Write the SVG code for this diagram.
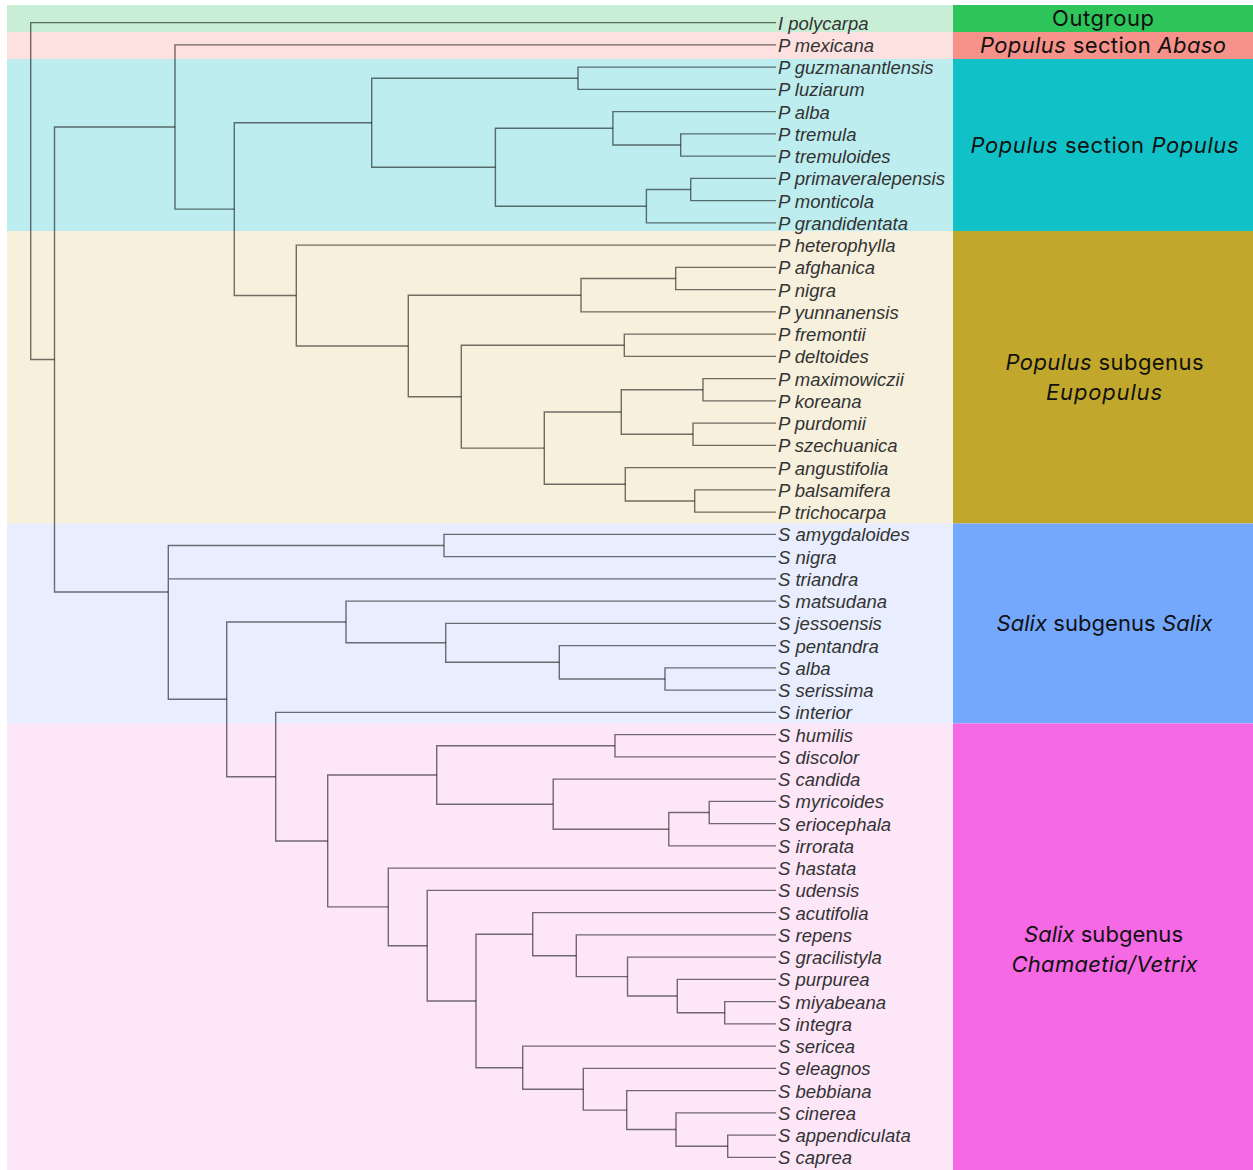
<svg xmlns="http://www.w3.org/2000/svg" width="1253" height="1170" viewBox="0 0 1253 1170">
<style>
.tip{font-family:"Liberation Sans",Arial,sans-serif;font-style:italic;font-size:18.5px;fill:#333}
.lab{font-family:Inter,"Noto Sans",sans-serif;font-size:22px;fill:#111;text-anchor:middle}
.it{font-style:italic}
.br{fill:none;stroke:#000;stroke-opacity:0.55;stroke-width:1.4}
</style>
<rect width="1253" height="1170" fill="#fff"/>
<g id="bands">
<rect x="7" y="5" width="946" height="27" fill="#c8efd6"/>
<rect x="7" y="32" width="946" height="27" fill="#fde0e0"/>
<rect x="7" y="59" width="946" height="172" fill="#bdedef"/>
<rect x="7" y="231" width="946" height="292.5" fill="#f6f0dc"/>
<rect x="7" y="523.5" width="946" height="200" fill="#e8eefd"/>
<rect x="7" y="723.5" width="946" height="446.5" fill="#fde6f8"/>
</g>
<g id="clade-outgroup"><rect x="953" y="5" width="300" height="27" fill="#2ec55a"/><text class="lab" x="1103" y="26" textLength="102">Outgroup</text></g>
<g id="clade-abaso"><rect x="953" y="32" width="300" height="27" fill="#f7928a"/><text class="lab" x="1103" y="53" textLength="246"><tspan class="it">Populus</tspan> section <tspan class="it">Abaso</tspan></text></g>
<g id="clade-populus"><rect x="953" y="59" width="300" height="172" fill="#10c2c8"/><text class="lab" x="1104.5" y="153" textLength="268"><tspan class="it">Populus</tspan> section <tspan class="it">Populus</tspan></text></g>
<g id="clade-eupopulus"><rect x="953" y="231" width="300" height="292.5" fill="#c1a82c"/><text class="lab" x="1104.5" y="369.5" textLength="198"><tspan class="it">Populus</tspan> subgenus</text><text class="lab it" x="1104" y="399.5" textLength="116">Eupopulus</text></g>
<g id="clade-salix"><rect x="953" y="523.5" width="300" height="200" fill="#73a8fd"/><text class="lab" x="1104.5" y="630.5" textLength="216"><tspan class="it">Salix</tspan> subgenus <tspan class="it">Salix</tspan></text></g>
<g id="clade-vetrix"><rect x="953" y="723.5" width="300" height="446.5" fill="#f569e4"/><text class="lab" x="1103.5" y="942" textLength="159"><tspan class="it">Salix</tspan> subgenus</text><text class="lab it" x="1104.5" y="972" textLength="186">Chamaetia/Vetrix</text></g>
<g id="connectors" class="br">
<path d="M776 22.6H30.7V359.5H54.5"/>
<path d="M175 127H54.5V592H168.3"/>
<path d="M776 44.85H175V209.1H234.3"/>
<path d="M371.7 122.7H234.3V295.5H296.3"/>
<path d="M578 78.2H371.7V167.2H495.4"/>
<path d="M776 67.1H578V89.35H776"/>
<path d="M612.9 128.3H495.4V206.2H646.4"/>
<path d="M776 111.6H612.9V145H680.7"/>
<path d="M776 133.85H680.7V156.1H776"/>
<path d="M690.7 189.5H646.4V222.85H776"/>
<path d="M776 178.35H690.7V200.6H776"/>
<path d="M776 245.1H296.3V346H408.3"/>
<path d="M581 295.2H408.3V396.7H461.3"/>
<path d="M675.7 278.5H581V311.85H776"/>
<path d="M776 267.35H675.7V289.6H776"/>
<path d="M624.3 345.2H461.3V448.1H544.3"/>
<path d="M776 334.1H624.3V356.35H776"/>
<path d="M621.3 412H544.3V484.3H625.3"/>
<path d="M703 389.7H621.3V434.2H693"/>
<path d="M776 378.6H703V400.85H776"/>
<path d="M776 423.1H693V445.35H776"/>
<path d="M776 467.6H625.3V501H694.7"/>
<path d="M776 489.85H694.7V512.1H776"/>
<path d="M444 545.5H168.3V699.3H226.7M168.3 578.85H776"/>
<path d="M776 534.35H444V556.6H776"/>
<path d="M346 622H226.7V776.7H275.7"/>
<path d="M776 601.1H346V642.8H445.7"/>
<path d="M776 623.35H445.7V662.3H559.3"/>
<path d="M776 645.6H559.3V679H665"/>
<path d="M776 667.85H665V690.1H776"/>
<path d="M776 712.35H275.7V841H327.7"/>
<path d="M436.7 775H327.7V906.9H388.3"/>
<path d="M615 745.7H436.7V804.2H553.2"/>
<path d="M776 734.6H615V756.85H776"/>
<path d="M776 779.1H553.2V829.2H668.8"/>
<path d="M709.2 812.5H668.8V845.85H776"/>
<path d="M776 801.35H709.2V823.6H776"/>
<path d="M776 868.1H388.3V945.7H427.2"/>
<path d="M776 890.35H427.2V1001H476"/>
<path d="M532.7 934.2H476V1067.7H522.7"/>
<path d="M776 912.6H532.7V955.7H576.3"/>
<path d="M776 934.85H576.3V976.6H627.5"/>
<path d="M776 957.1H627.5V996H677.3"/>
<path d="M776 979.35H677.3V1012.7H724.7"/>
<path d="M776 1001.6H724.7V1023.85H776"/>
<path d="M776 1046.1H522.7V1089.2H583.3"/>
<path d="M776 1068.35H583.3V1110.1H626.7"/>
<path d="M776 1090.6H626.7V1129.5H676"/>
<path d="M776 1112.85H676V1146.2H727.7"/>
<path d="M776 1135.1H727.7V1157.35H776"/>
</g>
<g id="tips" class="tip">
<g id="t-i-polycarpa"><text x="778" y="29.6">I polycarpa</text></g>
<g id="t-p-mexicana"><text x="778" y="51.9">P mexicana</text></g>
<g id="t-p-guzmanantlensis"><text x="778" y="74.1">P guzmanantlensis</text></g>
<g id="t-p-luziarum"><text x="778" y="96.4">P luziarum</text></g>
<g id="t-p-alba"><text x="778" y="118.6">P alba</text></g>
<g id="t-p-tremula"><text x="778" y="140.9">P tremula</text></g>
<g id="t-p-tremuloides"><text x="778" y="163.1">P tremuloides</text></g>
<g id="t-p-primaveralepensis"><text x="778" y="185.4">P primaveralepensis</text></g>
<g id="t-p-monticola"><text x="778" y="207.6">P monticola</text></g>
<g id="t-p-grandidentata"><text x="778" y="229.9">P grandidentata</text></g>
<g id="t-p-heterophylla"><text x="778" y="252.1">P heterophylla</text></g>
<g id="t-p-afghanica"><text x="778" y="274.4">P afghanica</text></g>
<g id="t-p-nigra"><text x="778" y="296.6">P nigra</text></g>
<g id="t-p-yunnanensis"><text x="778" y="318.9">P yunnanensis</text></g>
<g id="t-p-fremontii"><text x="778" y="341.1">P fremontii</text></g>
<g id="t-p-deltoides"><text x="778" y="363.4">P deltoides</text></g>
<g id="t-p-maximowiczii"><text x="778" y="385.6">P maximowiczii</text></g>
<g id="t-p-koreana"><text x="778" y="407.9">P koreana</text></g>
<g id="t-p-purdomii"><text x="778" y="430.1">P purdomii</text></g>
<g id="t-p-szechuanica"><text x="778" y="452.4">P szechuanica</text></g>
<g id="t-p-angustifolia"><text x="778" y="474.6">P angustifolia</text></g>
<g id="t-p-balsamifera"><text x="778" y="496.9">P balsamifera</text></g>
<g id="t-p-trichocarpa"><text x="778" y="519.1">P trichocarpa</text></g>
<g id="t-s-amygdaloides"><text x="778" y="541.4">S amygdaloides</text></g>
<g id="t-s-nigra"><text x="778" y="563.6">S nigra</text></g>
<g id="t-s-triandra"><text x="778" y="585.9">S triandra</text></g>
<g id="t-s-matsudana"><text x="778" y="608.1">S matsudana</text></g>
<g id="t-s-jessoensis"><text x="778" y="630.4">S jessoensis</text></g>
<g id="t-s-pentandra"><text x="778" y="652.6">S pentandra</text></g>
<g id="t-s-alba"><text x="778" y="674.9">S alba</text></g>
<g id="t-s-serissima"><text x="778" y="697.1">S serissima</text></g>
<g id="t-s-interior"><text x="778" y="719.4">S interior</text></g>
<g id="t-s-humilis"><text x="778" y="741.6">S humilis</text></g>
<g id="t-s-discolor"><text x="778" y="763.9">S discolor</text></g>
<g id="t-s-candida"><text x="778" y="786.1">S candida</text></g>
<g id="t-s-myricoides"><text x="778" y="808.4">S myricoides</text></g>
<g id="t-s-eriocephala"><text x="778" y="830.6">S eriocephala</text></g>
<g id="t-s-irrorata"><text x="778" y="852.9">S irrorata</text></g>
<g id="t-s-hastata"><text x="778" y="875.1">S hastata</text></g>
<g id="t-s-udensis"><text x="778" y="897.4">S udensis</text></g>
<g id="t-s-acutifolia"><text x="778" y="919.6">S acutifolia</text></g>
<g id="t-s-repens"><text x="778" y="941.9">S repens</text></g>
<g id="t-s-gracilistyla"><text x="778" y="964.1">S gracilistyla</text></g>
<g id="t-s-purpurea"><text x="778" y="986.4">S purpurea</text></g>
<g id="t-s-miyabeana"><text x="778" y="1008.6">S miyabeana</text></g>
<g id="t-s-integra"><text x="778" y="1030.9">S integra</text></g>
<g id="t-s-sericea"><text x="778" y="1053.1">S sericea</text></g>
<g id="t-s-eleagnos"><text x="778" y="1075.4">S eleagnos</text></g>
<g id="t-s-bebbiana"><text x="778" y="1097.6">S bebbiana</text></g>
<g id="t-s-cinerea"><text x="778" y="1119.9">S cinerea</text></g>
<g id="t-s-appendiculata"><text x="778" y="1142.1">S appendiculata</text></g>
<g id="t-s-caprea"><text x="778" y="1164.4">S caprea</text></g>
</g>
</svg>
